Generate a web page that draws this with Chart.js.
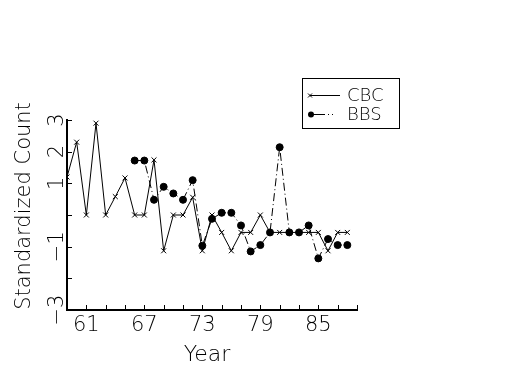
<!DOCTYPE html>
<html lang="en">
<head>
<meta charset="UTF-8">
<title>Standardized Count</title>
<script src="https://cdn.jsdelivr.net/npm/chart.js@4.4.0/dist/chart.umd.min.js"></script>
<style>
    html, body { margin:0; padding:0; background:#fff; }
    #board { width:525px; height:375px; }
</style>
</head>
<body>
<div id="board">
    <canvas id="chart1" width="525" height="375"></canvas>
</div>
<script>
// years and values
const cbcYears = [59,60,61,62,63,64,65,66,67,68,69,70,71,72,73,74,75,76,77,78,79,80,81,82,83,84,85,86,87,88];
const cbcValues = [1.2,2.3,0,2.9,0,0.58,1.17,0,0,1.74,-1.13,0,0,0.56,-1.13,0,-0.55,-1.13,-0.55,-0.55,0,-0.55,-0.55,-0.55,-0.55,-0.55,-0.55,-1.13,-0.55,-0.55];
const bbsYears = [66,67,68,69,70,71,72,73,74,75,76,77,78,79,80,81,82,83,84,85,86,87,88];
const bbsValues = [1.72,1.72,0.48,0.89,0.68,0.48,1.1,-0.97,-0.12,0.07,0.07,-0.33,-1.15,-0.95,-0.55,2.14,-0.55,-0.55,-0.33,-1.37,-0.76,-0.95,-0.95];
const xTickLabels = [61,67,73,79,85];
const yTickLabels = [3,2,1,-1,-3];

const FONT = "'DejaVu Sans', sans-serif";
const W = '200 ';  // thin strokes like the plotter font, falls back to normal
const fmt = v => (v < 0 ? '\u2212' + Math.abs(v) : String(v));

const toPoints = (xs, ys) => xs.map((x, i) => ({x: x, y: ys[i]}));

// inward ticks, rotated y labels, axis titles and the boxed legend
const extras = {
    id: 'extras',
    afterDraw(chart) {
        const ctx = chart.ctx;
        const xs = chart.scales.x, ys = chart.scales.y;
        const area = chart.chartArea;
        ctx.save();
        ctx.strokeStyle = '#000';
        ctx.lineWidth = 1;
        ctx.beginPath();
        ys.ticks.forEach(t => {
            const y = Math.round(ys.getPixelForValue(t.value)) + 0.5;
            ctx.moveTo(area.left, y); ctx.lineTo(area.left + 5, y);
        });
        xs.ticks.forEach(t => {
            const x = Math.round(xs.getPixelForValue(t.value)) + 0.5;
            ctx.moveTo(x, area.bottom); ctx.lineTo(x, area.bottom - 5);
        });
        ctx.stroke();

        ctx.fillStyle = '#000';
        ctx.font = W + '21px ' + FONT;
        ctx.textAlign = 'center';
        ctx.textBaseline = 'middle';
        yTickLabels.forEach(v => {
            const y = ys.getPixelForValue(v);
            ctx.save();
            ctx.translate(area.left - 9, y);
            ctx.rotate(-Math.PI / 2);
            ctx.fillText(fmt(v), 0, 0);
            ctx.restore();
        });

        // y title
        ctx.save();
        ctx.translate(25, 206);
        ctx.rotate(-Math.PI / 2);
        ctx.fillText('Standardized Count', 0, 0);
        ctx.restore();
        // x title
        ctx.font = W + '22px ' + FONT;
        ctx.fillText('Year', 207, 355);

        // legend
        ctx.lineWidth = 1;
        ctx.strokeRect(302.5, 78.5, 97, 50);
        const ds = chart.data.datasets;
        ctx.font = W + '18px ' + FONT;
        ctx.textAlign = 'left';
        // CBC
        ctx.beginPath();
        ctx.moveTo(310, 95.5); ctx.lineTo(340, 95.5);
        ctx.stroke();
        ctx.beginPath();
        ctx.moveTo(308, 93.5); ctx.lineTo(312, 97.5);
        ctx.moveTo(312, 93.5); ctx.lineTo(308, 97.5);
        ctx.stroke();
        ctx.fillText(ds[0].label, 347, 96);
        // BBS
        ctx.beginPath();
        ctx.moveTo(311, 114.5); ctx.lineTo(325, 114.5);
        ctx.moveTo(328, 114.5); ctx.lineTo(329, 114.5);
        ctx.moveTo(332, 114.5); ctx.lineTo(333, 114.5);
        ctx.stroke();
        ctx.beginPath();
        ctx.arc(311, 114.5, 3, 0, Math.PI * 2);
        ctx.fill();
        ctx.fillText(ds[1].label, 347, 115);
        ctx.restore();
    }
};

const ctx = document.getElementById('chart1').getContext('2d');
new Chart(ctx, {
    type: 'line',
    data: {
        datasets: [{
            label: 'CBC',
            data: toPoints(cbcYears, cbcValues),
            borderColor: '#000',
            borderWidth: 1,
            pointStyle: 'crossRot',
            pointRadius: 3.5,
            pointBorderColor: '#000',
            pointBorderWidth: 1,
            tension: 0,
            order: 1
        }, {
            label: 'BBS',
            data: toPoints(bbsYears, bbsValues),
            borderColor: '#000',
            borderWidth: 1,
            borderDash: [8, 3, 1, 3],
            pointStyle: 'circle',
            pointRadius: 3.5,
            pointBackgroundColor: '#000',
            pointBorderColor: '#000',
            tension: 0,
            order: 0
        }]
    },
    options: {
        responsive: false,
        animation: false,
        devicePixelRatio: 1,
        layout: { padding: { left: 0, right: 168, top: 120, bottom: 0 } },
        plugins: {
            legend: { display: false },
            tooltip: { enabled: false }
        },
        scales: {
            x: {
                type: 'linear',
                min: 59,
                max: 89,
                grid: { display: false, drawTicks: false },
                border: { display: true, color: '#000', width: 2 },
                ticks: {
                    stepSize: 2,
                    autoSkip: false,
                    maxRotation: 0,
                    padding: 3,
                    color: '#000',
                    font: { family: FONT, size: 21, weight: 200 },
                    callback: v => (xTickLabels.includes(v) ? String(v) : '')
                },
                afterFit: s => { s.height = 65; }
            },
            y: {
                min: -3,
                max: 3,
                grid: { display: false, drawTicks: false },
                border: { display: true, color: '#000', width: 2 },
                ticks: { stepSize: 1, display: false },
                afterFit: s => { s.width = 67; }
            }
        }
    },
    plugins: [extras]
});
</script>
</body>
</html>
